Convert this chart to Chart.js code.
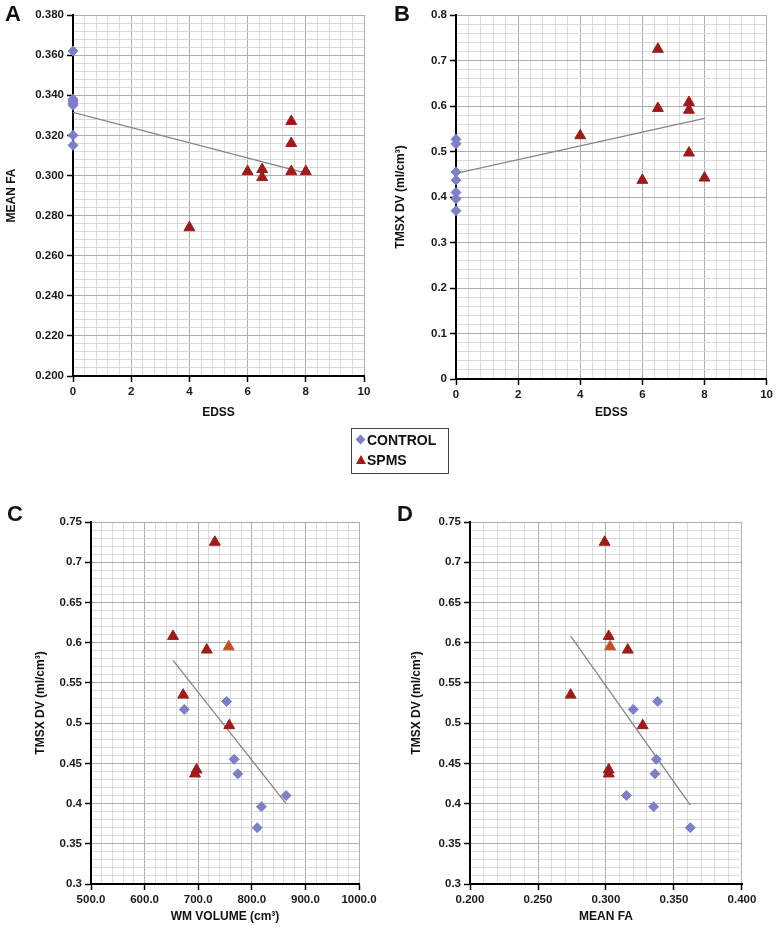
<!DOCTYPE html>
<html><head><meta charset="utf-8">
<script src="https://cdn.jsdelivr.net/npm/chart.js@4.4.1/dist/chart.umd.min.js"></script>
<style>
body{margin:0;background:#fff;width:776px;height:934px;position:relative;overflow:hidden;font-family:"Liberation Sans",Arial,sans-serif}
canvas{position:absolute;display:block}
.letter{position:absolute;font:bold 22px "Liberation Sans",Arial,sans-serif;line-height:22px;color:#111}
#legend{position:absolute;left:351px;top:428px;width:98px;height:46px;border:1px solid #444;box-sizing:border-box;font:bold 14px "Liberation Sans",Arial,sans-serif;color:#111}
#legend .row{position:absolute;left:0;height:18px;line-height:18px}
#legend .txt{position:absolute;left:15px;top:0;white-space:nowrap}
.dia{position:absolute;left:5px;top:5px;width:7px;height:7px;background:#7e80c6;transform:rotate(45deg)}
.tri{position:absolute;left:4px;top:4px;width:0;height:0;border-left:5px solid transparent;border-right:5px solid transparent;border-bottom:9px solid #9b1c1c}
</style></head><body>
<canvas id="cA" width="390" height="440" style="left:0;top:0"></canvas>
<canvas id="cB" width="386" height="440" style="left:390px;top:0"></canvas>
<canvas id="cC" width="390" height="454" style="left:0;top:480px"></canvas>
<canvas id="cD" width="386" height="454" style="left:390px;top:480px"></canvas>
<div class="letter" style="left:5px;top:3px">A</div>
<div class="letter" style="left:394px;top:3px">B</div>
<div class="letter" style="left:7px;top:503px">C</div>
<div class="letter" style="left:397px;top:503px">D</div>
<div id="legend">
  <div class="row" style="top:2px"><span class="dia"></span><span class="txt">CONTROL</span></div>
  <div class="row" style="top:22px"><span class="tri"></span><span class="txt">SPMS</span></div>
</div>
<script>
// ---------------- DATA ----------------
const seriesNames = ['CONTROL', 'SPMS'];
const controlEDSS = [0, 0, 0, 0, 0, 0, 0];
const controlFA   = [0.338, 0.320, 0.337, 0.336, 0.315, 0.335, 0.362];
const controlTMSX = [0.527, 0.517, 0.455, 0.437, 0.410, 0.396, 0.370];
const controlWM   = [753, 674, 767, 774, 864, 818, 810];
const spmsEDSS = [4, 6, 6.5, 6.5, 7.5, 7.5, 7.5, 8];
const spmsFA   = [0.274, 0.302, 0.299, 0.303, 0.302, 0.316, 0.327, 0.302];
const spmsTMSX = [0.535, 0.437, 0.725, 0.595, 0.608, 0.591, 0.497, 0.442];
const spmsWM   = [672, 694, 731, 757, 653, 716, 758, 697];
// trend line endpoints [x, y]
const trendA = [[0, 0.3315], [8, 0.3012]];
const trendB = [[0, 0.452], [8, 0.573]];
const trendC = [[653, 0.578], [864, 0.400]];
const trendD = [[0.274, 0.608], [0.362, 0.398]];
// tick labels
const edssTicks   = ['0', '2', '4', '6', '8', '10'];
const faTicksA    = ['0.200', '0.220', '0.240', '0.260', '0.280', '0.300', '0.320', '0.340', '0.360', '0.380'];
const tmsxTicksB  = ['0', '0.1', '0.2', '0.3', '0.4', '0.5', '0.6', '0.7', '0.8'];
const tmsxTicksCD = ['0.3', '0.35', '0.4', '0.45', '0.5', '0.55', '0.6', '0.65', '0.7', '0.75'];
const wmTicks     = ['500.0', '600.0', '700.0', '800.0', '900.0', '1000.0'];
const faTicksD    = ['0.200', '0.250', '0.300', '0.350', '0.400'];

// ---------------- STYLE ----------------
const C_CTRL = '#7e80c6', C_SPMS = '#9b1c1c', C_SPMS_HI = '#c0502a';
const MAJOR = '#adadad', MINOR = '#dadada';
const TICKFONT = {family: '"Liberation Sans", Arial, sans-serif', size: 11.5, weight: 'bold'};
const TITLEFONT = {family: '"Liberation Sans", Arial, sans-serif', size: 12, weight: 'bold'};

function pts(xs, ys) { return xs.map((x, i) => ({x: x, y: ys[i]})); }
function line(arr) { return arr.map(p => ({x: p[0], y: p[1]})); }

function makeAxis(labels, minorDiv, title, titlePad, size, horiz) {
  const vals = labels.map(Number);
  const min = vals[0], max = vals[vals.length - 1];
  const step = (vals[1] - vals[0]) / minorDiv;
  const idx = v => vals.findIndex(m => Math.abs(m - v) < step * 1e-3);
  return {
    type: 'linear', min: min, max: max,
    afterBuildTicks: s => {
      const n = Math.round((max - min) / step), t = [];
      for (let i = 0; i <= n; i++) t.push({value: min + i * step});
      s.ticks = t;
    },
    afterFit: s => { if (horiz) s.height = size; else s.width = size; },
    ticks: {autoSkip: false, maxRotation: 0, font: TICKFONT, color: '#1a1a1a', padding: 3,
            callback: v => { const i = idx(v); return i < 0 ? '' : labels[i]; }},
    grid: {
      color: c => idx(c.tick.value) >= 0 ? MAJOR : MINOR,
      tickColor: c => idx(c.tick.value) >= 0 ? '#000' : 'rgba(0,0,0,0)',
      lineWidth: 1, tickLength: 6, tickWidth: 1.5
    },
    border: {display: true, color: '#000', width: 2},
    title: {display: true, text: title, font: TITLEFONT, color: '#111', padding: titlePad}
  };
}

function panel(id, ctrl, spms, spmsColors, trend, xAxis, yAxis, pad) {
  new Chart(document.getElementById(id), {
    type: 'scatter',
    data: {datasets: [
      {label: seriesNames[1], data: spms, pointStyle: 'triangle', pointRadius: 6.3,
       pointBackgroundColor: spmsColors, pointBorderColor: spmsColors, pointBorderWidth: 1, clip: false},
      {label: seriesNames[0], data: ctrl, pointStyle: 'rectRot', pointRadius: 5,
       pointBackgroundColor: C_CTRL, pointBorderColor: C_CTRL, pointBorderWidth: 1, clip: false},
      {label: 'trend', data: trend, showLine: true, pointRadius: 0, borderColor: '#858585',
       borderWidth: 1.3, fill: false}
    ]},
    options: {
      responsive: false, animation: false, events: [],
      layout: {padding: pad},
      plugins: {legend: {display: false}, tooltip: {enabled: false}},
      scales: {x: xAxis, y: yAxis}
    }
  });
}

const colAB = spmsEDSS.map(() => C_SPMS);
const colCD = spmsEDSS.map((_, i) => i === 3 ? C_SPMS_HI : C_SPMS);

panel('cA', pts(controlEDSS, controlFA), pts(spmsEDSS, spmsFA), colAB, line(trendA),
  makeAxis(edssTicks, 5, 'EDSS', {top: 0, bottom: 20}, 64, true),
  makeAxis(faTicksA, 5, 'MEAN FA', {top: 4, bottom: 0}, 73, false),
  {top: 15, right: 26, left: 0, bottom: 0});

panel('cB', pts(controlEDSS, controlTMSX), pts(spmsEDSS, spmsTMSX), colAB, line(trendB),
  makeAxis(edssTicks, 5, 'EDSS', {top: 0, bottom: 20}, 61, true),
  makeAxis(tmsxTicksB, 5, 'TMSX DV (ml/cm³)', {top: 3, bottom: 0}, 66, false),
  {top: 15, right: 9, left: 0, bottom: 0});

panel('cC', pts(controlWM, controlTMSX), pts(spmsWM, spmsTMSX), colCD, line(trendC),
  makeAxis(wmTicks, 5, 'WM VOLUME (cm³)', {top: 0, bottom: 10}, 50, true),
  makeAxis(tmsxTicksCD, 5, 'TMSX DV (ml/cm³)', {top: 33, bottom: 0}, 91, false),
  {top: 42, right: 31, left: 0, bottom: 0});

panel('cD', pts(controlFA, controlTMSX), pts(spmsFA, spmsTMSX), colCD, line(trendD),
  makeAxis(faTicksD, 5, 'MEAN FA', {top: 0, bottom: 10}, 50, true),
  makeAxis(tmsxTicksCD, 5, 'TMSX DV (ml/cm³)', {top: 19, bottom: 0}, 80, false),
  {top: 42, right: 34, left: 0, bottom: 0});
</script>
</body></html>
